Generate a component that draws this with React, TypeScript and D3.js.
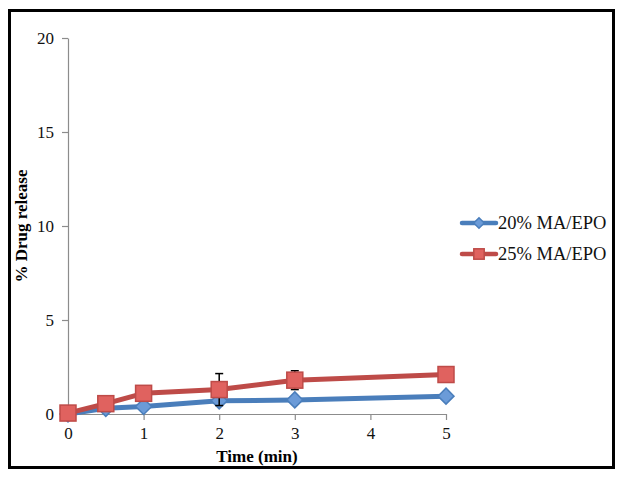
import { useRef, useEffect } from 'react';
import * as d3 from 'd3';

const times = [0, 0.5, 1, 2, 3, 5];
const ma20 = [0, 0.3, 0.4, 0.7, 0.75, 0.95];
const ma20Err = [0, 0, 0, 0.2, 0, 0];
const ma25 = [0.05, 0.55, 1.1, 1.3, 1.8, 2.1];
const ma25Err = [0, 0, 0, 0.85, 0.5, 0];
const xTicks = [0, 1, 2, 3, 4, 5];
const yTicks = [0, 5, 10, 15, 20];

const seriesList = [
  { name: '20% MA/EPO', values: ma20, err: ma20Err, color: '#4a7ebb', fill: '#6b9bd8', marker: 'diamond' },
  { name: '25% MA/EPO', values: ma25, err: ma25Err, color: '#be4b48', fill: '#e0625f', marker: 'square' },
];

const App = () => {
  const svgRef = useRef<SVGSVGElement>(null);

  useEffect(() => {
    const svg = d3.select(svgRef.current);
    svg.selectAll('*').remove();

    const font = '"Liberation Serif", serif';

    // outer frame
    svg.append('rect')
      .attr('x', 9.5).attr('y', 10.5)
      .attr('width', 604).attr('height', 457)
      .attr('fill', '#fff').attr('stroke', '#000').attr('stroke-width', 3);

    const x = d3.scaleLinear().domain([0, 5]).range([68, 446]);
    const y = d3.scaleLinear().domain([0, 20]).range([414, 38]);

    const xAxis = svg.append('g')
      .attr('transform', `translate(0,${y(0)})`)
      .call(d3.axisBottom(x).tickValues(xTicks).tickSize(6).tickSizeOuter(0).tickFormat(d3.format('d')));
    const yAxis = svg.append('g')
      .attr('transform', `translate(${x(0)},0)`)
      .call(d3.axisLeft(y).tickValues(yTicks).tickSize(6).tickSizeOuter(0).tickFormat(d3.format('d')));

    [xAxis, yAxis].forEach((ax) => {
      ax.select('.domain').attr('stroke', '#8c8c8c').attr('stroke-width', 1.2);
      ax.selectAll('.tick line').attr('stroke', '#8c8c8c').attr('stroke-width', 1.2);
      ax.selectAll('.tick text')
        .attr('fill', '#111')
        .style('font-family', font)
        .style('font-size', '17px');
    });
    xAxis.selectAll('.tick text').attr('dy', '0.95em');
    yAxis.selectAll('.tick text').attr('x', -14);

    // axis titles
    svg.append('text')
      .attr('x', x(2.5)).attr('y', 462)
      .attr('text-anchor', 'middle')
      .style('font-family', font).style('font-size', '17px').style('font-weight', 'bold')
      .text('Time (min)');
    svg.append('text')
      .attr('transform', `translate(27,${y(10)}) rotate(-90)`)
      .attr('text-anchor', 'middle')
      .style('font-family', font).style('font-size', '17px').style('font-weight', 'bold')
      .text('% Drug release');

    const line = d3.line<number>()
      .x((_, i) => x(times[i]))
      .y((d) => y(d));

    const drawMarker = (g: any, s: any, cx: number, cy: number, scale = 1) => {
      const h = 8 * scale;
      if (s.marker === 'square') {
        g.append('rect')
          .attr('x', cx - h).attr('y', cy - h)
          .attr('width', 2 * h).attr('height', 2 * h)
          .attr('fill', s.fill).attr('stroke', s.color).attr('stroke-width', 1.5);
      } else {
        g.append('path')
          .attr('d', `M${cx},${cy - h}L${cx + h},${cy}L${cx},${cy + h}L${cx - h},${cy}Z`)
          .attr('fill', s.fill).attr('stroke', s.color).attr('stroke-width', 1.5);
      }
    };

    seriesList.forEach((s) => {
      const g = svg.append('g');
      // error bars
      s.values.forEach((v, i) => {
        const e = s.err[i];
        if (!e) return;
        const cx = x(times[i]);
        g.append('line')
          .attr('x1', cx).attr('x2', cx)
          .attr('y1', y(v - e)).attr('y2', y(v + e))
          .attr('stroke', '#000').attr('stroke-width', 1.5);
        [v - e, v + e].forEach((yy) => {
          g.append('line')
            .attr('x1', cx - 4).attr('x2', cx + 4)
            .attr('y1', y(yy)).attr('y2', y(yy))
            .attr('stroke', '#000').attr('stroke-width', 1.5);
        });
      });
      g.append('path')
        .datum(s.values)
        .attr('d', line)
        .attr('fill', 'none')
        .attr('stroke', s.color)
        .attr('stroke-width', 5)
        .attr('stroke-linejoin', 'round');
      s.values.forEach((v, i) => drawMarker(g, s, x(times[i]), y(v)));
    });

    // legend
    seriesList.forEach((s, i) => {
      const ly = 223 + i * 31;
      const g = svg.append('g');
      g.append('line')
        .attr('x1', 462).attr('x2', 496)
        .attr('y1', ly).attr('y2', ly)
        .attr('stroke', s.color).attr('stroke-width', 4.5).attr('stroke-linecap', 'round');
      drawMarker(g, s, 479, ly, 0.65);
      g.append('text')
        .attr('x', 498).attr('y', ly + 6)
        .style('font-family', font).style('font-size', '18.5px')
        .attr('fill', '#111')
        .text(s.name);
    });
  }, []);

  return (
    <svg ref={svgRef} width={624} height={477} style={{ position: 'absolute', left: 0, top: 0, background: '#fff' }} />
  );
};

export default App;
